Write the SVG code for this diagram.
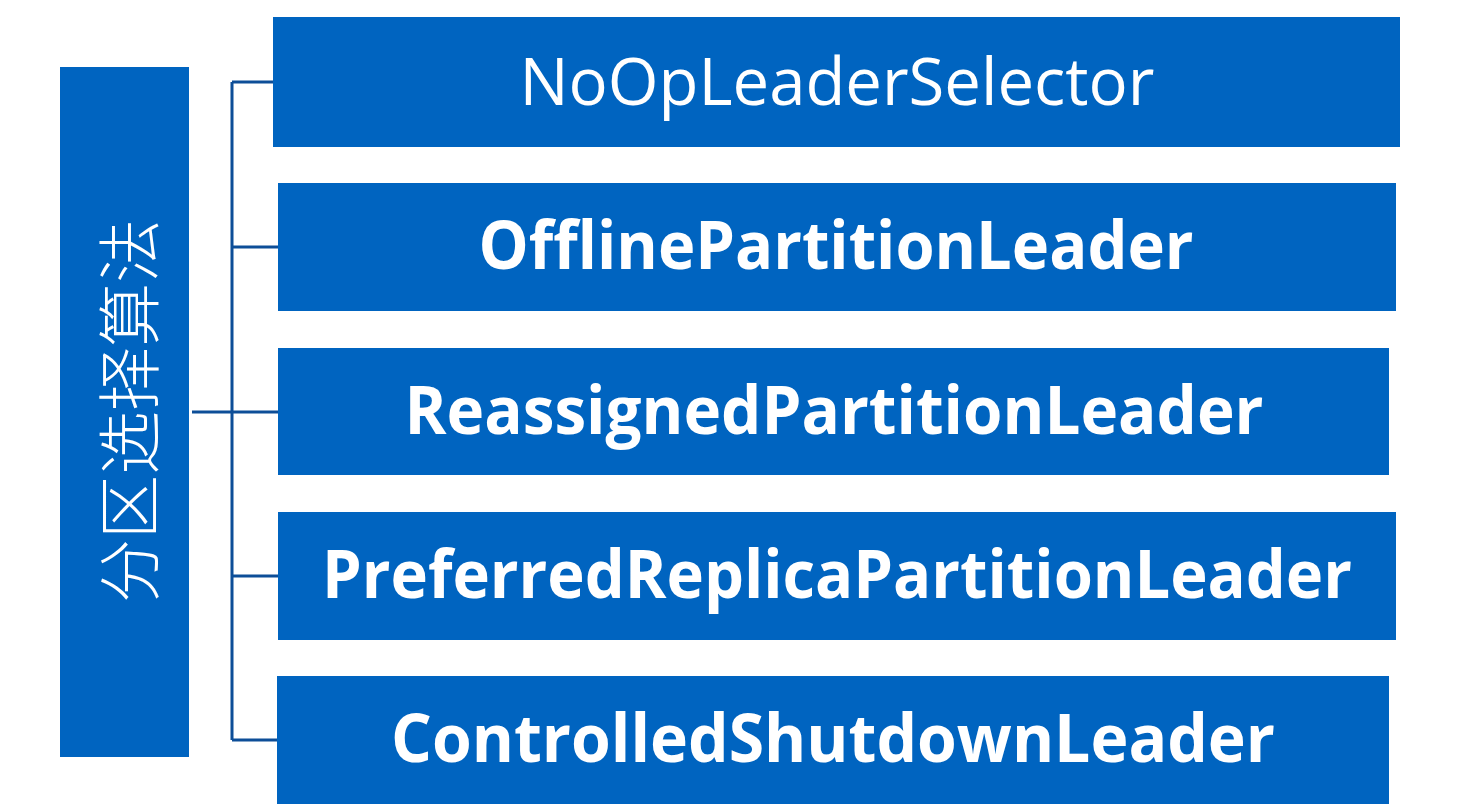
<svg xmlns="http://www.w3.org/2000/svg" width="1464" height="809" viewBox="0 0 1464 809">
  <style>
    .box { fill: #0064C0; }
    .lbl { fill: #FFFFFF; font-family: "Open Sans", "Noto Sans", "Liberation Sans", sans-serif; font-size: 66px; text-anchor: middle; }
    .bold { font-weight: bold; }
    .cjk { fill: #FFFFFF; font-family: "Noto Sans CJK SC", sans-serif; font-weight: 300; font-size: 64px; text-anchor: middle; dominant-baseline: central; }
    .wire { stroke: #0D4E98; stroke-width: 3; fill: none; }
  </style>

  <g id="root">
    <rect class="box" x="60" y="67" width="129" height="690"/>
    <text class="cjk" transform="translate(125,411) rotate(-90)">分区选择算法</text>
  </g>

  <g id="connectors">
    <path class="wire" d="M192 412 H232"/>
    <path class="wire" d="M232 82 V740"/>
    <path class="wire" d="M232 82 H273"/>
    <path class="wire" d="M232 247 H278"/>
    <path class="wire" d="M232 412 H278"/>
    <path class="wire" d="M232 576 H278"/>
    <path class="wire" d="M232 740 H277"/>
  </g>

  <g id="noop">
    <rect class="box" x="273" y="17" width="1127" height="130"/>
    <text class="lbl" x="837" y="105" textLength="635" lengthAdjust="spacingAndGlyphs">NoOpLeaderSelector</text>
  </g>

  <g id="offline">
    <rect class="box" x="278" y="183" width="1118" height="128"/>
    <text class="lbl bold" x="836" y="269" textLength="715" lengthAdjust="spacingAndGlyphs">OfflinePartitionLeader</text>
  </g>

  <g id="reassigned">
    <rect class="box" x="278" y="348" width="1111" height="127"/>
    <text class="lbl bold" x="834" y="434" textLength="859" lengthAdjust="spacingAndGlyphs">ReassignedPartitionLeader</text>
  </g>

  <g id="preferred">
    <rect class="box" x="278" y="512" width="1118" height="128"/>
    <text class="lbl bold" x="837" y="598" textLength="1030" lengthAdjust="spacingAndGlyphs">PreferredReplicaPartitionLeader</text>
  </g>

  <g id="shutdown">
    <rect class="box" x="277" y="676" width="1112" height="128"/>
    <text class="lbl bold" x="833" y="762" textLength="884" lengthAdjust="spacingAndGlyphs">ControlledShutdownLeader</text>
  </g>
</svg>
